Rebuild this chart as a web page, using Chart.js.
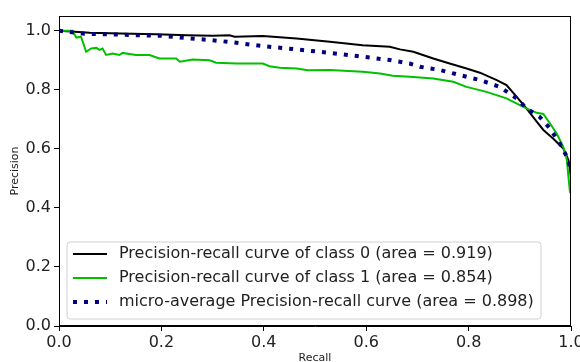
<!DOCTYPE html>
<html>
<head>
<meta charset="utf-8">
<script src="https://cdn.jsdelivr.net/npm/chart.js@4.4.1/dist/chart.umd.min.js"></script>
<style>
html,body{margin:0;padding:0;background:#fff;}
#wrap{width:580px;height:362px;position:relative;}
</style>
</head>
<body>
<div id="wrap"><canvas id="c" width="580" height="362"></canvas></div>
<script>
// ---- data ----
const class0Recall = [0, 0.03, 0.06, 0.12, 0.19, 0.25, 0.30, 0.333, 0.343, 0.398, 0.464, 0.529, 0.593, 0.646, 0.666, 0.692, 0.731, 0.763, 0.796, 0.822, 0.855, 0.874, 0.894, 0.913, 0.933, 0.946, 0.965, 0.985, 0.995, 0.998, 1.0];
const class0Precision = [1.0, 0.997, 0.993, 0.991, 0.988, 0.985, 0.983, 0.985, 0.980, 0.982, 0.974, 0.963, 0.951, 0.946, 0.937, 0.929, 0.906, 0.889, 0.872, 0.858, 0.833, 0.816, 0.776, 0.737, 0.692, 0.664, 0.635, 0.601, 0.562, 0.529, 0.50];

const class1Recall = [0, 0.026, 0.034, 0.043, 0.053, 0.063, 0.073, 0.079, 0.085, 0.092, 0.105, 0.118, 0.124, 0.15, 0.177, 0.196, 0.229, 0.236, 0.261, 0.294, 0.307, 0.346, 0.398, 0.411, 0.431, 0.464, 0.486, 0.529, 0.593, 0.627, 0.652, 0.685, 0.731, 0.77, 0.796, 0.835, 0.874, 0.9, 0.913, 0.933, 0.946, 0.959, 0.972, 0.985, 0.992, 0.995, 0.998, 1.0];
const class1Precision = [1.0, 1.0, 0.977, 0.98, 0.929, 0.94, 0.942, 0.935, 0.94, 0.918, 0.923, 0.918, 0.925, 0.918, 0.918, 0.906, 0.906, 0.895, 0.903, 0.90, 0.892, 0.889, 0.889, 0.88, 0.875, 0.872, 0.866, 0.867, 0.861, 0.855, 0.848, 0.844, 0.838, 0.827, 0.81, 0.793, 0.771, 0.748, 0.737, 0.722, 0.718, 0.686, 0.652, 0.607, 0.562, 0.505, 0.454, 0.45];

const microRecall = [0, 0.05, 0.1, 0.15, 0.2, 0.25, 0.30, 0.343, 0.398, 0.464, 0.529, 0.593, 0.646, 0.685, 0.705, 0.744, 0.783, 0.822, 0.861, 0.894, 0.913, 0.939, 0.959, 0.978, 0.992, 0.998, 1.0];
const microPrecision = [1.0, 0.99, 0.988, 0.985, 0.983, 0.975, 0.968, 0.96, 0.948, 0.937, 0.925, 0.912, 0.901, 0.889, 0.878, 0.867, 0.85, 0.833, 0.81, 0.771, 0.737, 0.708, 0.669, 0.618, 0.573, 0.539, 0.52];

const seriesLabels = [
  'Precision-recall curve of class 0 (area = 0.919)',
  'Precision-recall curve of class 1 (area = 0.854)',
  'micro-average Precision-recall curve (area = 0.898)'
];
const xTicks = [0, 0.2, 0.4, 0.6, 0.8, 1.0];
const yTicks = [0, 0.2, 0.4, 0.6, 0.8, 1.0];
const xTitle = 'Recall';
const yTitle = 'Precision';

function pts(xs, ys){ return xs.map((x,i)=>({x:x, y:ys[i]})); }

const FONT = "'DejaVu Sans', sans-serif";

const frameAndLegend = {
  id: 'frameAndLegend',
  afterDatasetsDraw(chart){
    const ctx = chart.ctx, a = chart.chartArea;
    ctx.save();
    ctx.strokeStyle = '#000';
    ctx.lineWidth = 1;
    ctx.strokeRect(Math.round(a.left)+0.5, Math.round(a.top)+0.5, Math.round(a.right-a.left)-1, Math.round(a.bottom-a.top)-1);
    // legend
    const bx = a.left + 8, by = a.bottom - 84, bw = 474, bh = 77;
    ctx.fillStyle = 'rgba(255,255,255,0.85)';
    ctx.strokeStyle = '#d0d0d0';
    ctx.lineWidth = 1;
    const r = 3;
    ctx.beginPath();
    ctx.moveTo(bx+r, by); ctx.lineTo(bx+bw-r, by); ctx.arcTo(bx+bw, by, bx+bw, by+r, r);
    ctx.lineTo(bx+bw, by+bh-r); ctx.arcTo(bx+bw, by+bh, bx+bw-r, by+bh, r);
    ctx.lineTo(bx+r, by+bh); ctx.arcTo(bx, by+bh, bx, by+bh-r, r);
    ctx.lineTo(bx, by+r); ctx.arcTo(bx, by, bx+r, by, r);
    ctx.closePath(); ctx.fill(); ctx.stroke();
    [0,1,2].forEach((di, k) => {
      const ds = chart.data.datasets[di];
      const y = by + 12 + k*24;
      ctx.save();
      ctx.strokeStyle = ds.borderColor;
      ctx.lineWidth = ds.borderWidth;
      ctx.lineCap = 'butt';
      ctx.setLineDash(ds.borderDash || []);
      ctx.beginPath(); ctx.moveTo(bx+6, y); ctx.lineTo(bx+40, y); ctx.stroke();
      ctx.restore();
      ctx.fillStyle = '#222';
      ctx.font = '16px ' + FONT;
      ctx.textBaseline = 'middle';
      ctx.textAlign = 'left';
      ctx.fillText(ds.label, bx + 52, y);
    });
    ctx.restore();
  }
};

new Chart(document.getElementById('c'), {
  type: 'scatter',
  data: {
    datasets: [
      { label: seriesLabels[0], data: pts(class0Recall, class0Precision), showLine: true, borderColor: '#000000', backgroundColor: '#000000', borderWidth: 2, pointRadius: 0, order: 3 },
      { label: seriesLabels[1], data: pts(class1Recall, class1Precision), showLine: true, borderColor: '#00c000', backgroundColor: '#00c000', borderWidth: 2, pointRadius: 0, order: 2 },
      { label: seriesLabels[2], data: pts(microRecall, microPrecision), showLine: true, borderColor: '#000080', backgroundColor: '#000080', borderWidth: 4, borderDash: [4, 7], borderCapStyle: 'butt', pointRadius: 0, order: 1 }
    ]
  },
  options: {
    responsive: false,
    animation: false,
    layout: { padding: { top: 16, right: 9, left: 0, bottom: 0 } },
    plugins: { legend: { display: false }, tooltip: { enabled: false } },
    scales: {
      x: {
        type: 'linear', min: 0, max: 1,
        afterFit(s){ s.height = 36; s.paddingRight = 0; s.paddingLeft = 0; },
        afterBuildTicks(s){ s.ticks = xTicks.map(v => ({value: v})); },
        grid: { display: true, drawOnChartArea: false, tickLength: 5, tickColor: '#000', color: '#000' },
        border: { display: true, color: '#000' },
        ticks: { color: '#222', font: { family: FONT, size: 16 }, padding: 2, maxRotation: 0, callback: v => Number(v).toFixed(1) },
        title: { display: true, text: xTitle, color: '#222', font: { family: FONT, size: 11 }, padding: { top: 0, bottom: -3 } }
      },
      y: {
        type: 'linear', min: 0, max: 1.05,
        afterFit(s){ s.width = 59; s.paddingTop = 0; s.paddingBottom = 0; },
        afterBuildTicks(s){ s.ticks = yTicks.map(v => ({value: v})); },
        grid: { display: true, drawOnChartArea: false, tickLength: 5, tickColor: '#000', color: '#000' },
        border: { display: true, color: '#000' },
        ticks: { color: '#222', font: { family: FONT, size: 16 }, padding: 3, callback: v => Number(v).toFixed(1) },
        title: { display: true, text: yTitle, color: '#222', font: { family: FONT, size: 11 }, padding: { top: 9, bottom: 0 } }
      }
    }
  },
  plugins: [frameAndLegend]
});
</script>
</body>
</html>
